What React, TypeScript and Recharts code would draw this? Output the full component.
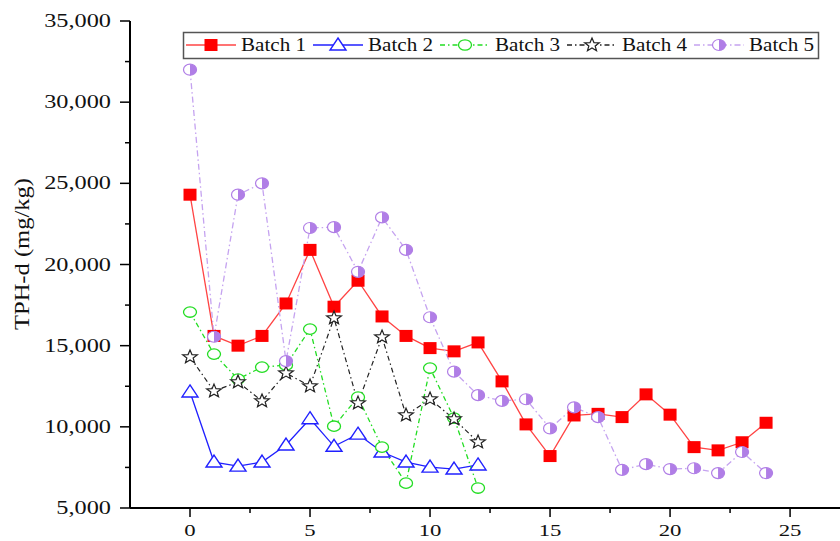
import { LineChart, Line, XAxis, YAxis } from "recharts";

const days = [0, 1, 2, 3, 4, 5, 6, 7, 8, 9, 10, 11, 12, 13, 14, 15, 16, 17, 18, 19, 20, 21, 22, 23, 24];

const batch1 = [
  24300, 15600, 15000, 15600, 17600, 20900, 17400, 19000, 16800, 15600, 14850, 14650, 15200,
  12800, 10150, 8200, 10700, 10800, 10600, 12000, 10750, 8750, 8550, 9050, 10250,
];
const batch2 = [12150, 7830, 7580, 7830, 8880, 10500, 8800, 9550, 8450, 7830, 7520, 7400, 7650];
const batch3 = [17070, 14480, 12940, 13680, 13800, 16020, 10040, 11830, 8750, 6530, 13620, 10540, 6230];
const batch4 = [14300, 12200, 12760, 11590, 13310, 12510, 16700, 11460, 15530, 10720, 11710, 10480, 9060];
const batch5 = [
  32000, 15550, 24300, 25000, 14050, 22250, 22300, 19550, 22900, 20900, 16750, 13400, 11950,
  11600, 11700, 9900, 11200, 10600, 7350, 7700, 7400, 7450, 7150, 8450, 7150,
];

const seriesNames = ["Batch 1", "Batch 2", "Batch 3", "Batch 4", "Batch 5"];
const xTicks = [0, 2.5, 5, 7.5, 10, 12.5, 15, 17.5, 20, 22.5, 25];
const yTicks = [5000, 7500, 10000, 12500, 15000, 17500, 20000, 22500, 25000, 27500, 30000, 32500, 35000];

const toPoints = (vals: number[]) => vals.map((v, i) => ({ x: days[i], y: v }));

const FONT = "'Liberation Serif', 'Times New Roman', serif";

const RED = "#ff0000";
const BLUE = "#2020ff";
const GREEN = "#22dd22";
const BLACK = "#222222";
const PURPLE = "#b07ee6";

function square(cx: number, cy: number, key?: any) {
  return <rect key={key} x={cx - 6.5} y={cy - 6} width={13} height={12} fill={RED} />;
}
function triangle(cx: number, cy: number, key?: any) {
  const pts = `${cx},${cy - 7} ${cx + 8},${cy + 5} ${cx - 8},${cy + 5}`;
  return <polygon key={key} points={pts} fill="#fff" stroke={BLUE} strokeWidth={1.4} />;
}
function circle(cx: number, cy: number, key?: any) {
  return <ellipse key={key} cx={cx} cy={cy} rx={6.5} ry={5.2} fill="#fff" stroke={GREEN} strokeWidth={1.3} />;
}
function star(cx: number, cy: number, key?: any) {
  const pts: string[] = [];
  for (let i = 0; i < 10; i++) {
    const r = i % 2 === 0 ? 7 : 3;
    const a = -Math.PI / 2 + (i * Math.PI) / 5;
    pts.push(`${cx + r * 1.1 * Math.cos(a)},${cy + r * Math.sin(a)}`);
  }
  return <polygon key={key} points={pts.join(" ")} fill="#fff" stroke={BLACK} strokeWidth={1.2} />;
}
function halfCircle(cx: number, cy: number, key?: any) {
  return (
    <g key={key}>
      <ellipse cx={cx} cy={cy} rx={6.5} ry={5.5} fill="#fff" stroke={PURPLE} strokeWidth={1.2} />
      <path d={`M${cx},${cy - 5.5} A6.5,5.5 0 0 1 ${cx},${cy + 5.5} Z`} fill={PURPLE} />
    </g>
  );
}

const fmt = (v: number) => String(v).replace(/\B(?=(\d{3})+(?!\d))/g, ",");

function YTick(props: any) {
  const { x, y, payload } = props;
  const major = payload.value % 5000 === 0;
  return (
    <g>
      <line x1={x} x2={x - (major ? 10 : 5)} y1={y} y2={y} stroke="#000" strokeWidth={1.5} />
      {major && (
        <text
          transform={`translate(${x - 19},${y + 6}) scale(1.35,1)`}
          textAnchor="end"
          fontFamily={FONT}
          fontSize={18}
          fill="#111"
        >
          {fmt(payload.value)}
        </text>
      )}
    </g>
  );
}

function XTick(props: any) {
  const { x, y, payload } = props;
  const major = payload.value % 5 === 0;
  return (
    <g>
      <line x1={x} x2={x} y1={y} y2={y + (major ? 9 : 5)} stroke="#000" strokeWidth={1.5} />
      {major && (
        <text
          transform={`translate(${x},${y + 28}) scale(1.3,1)`}
          textAnchor="middle"
          fontFamily={FONT}
          fontSize={17.5}
          fill="#111"
        >
          {payload.value}
        </text>
      )}
    </g>
  );
}

const legendItems = [
  { x: 186, color: "#ff4444", dash: undefined, marker: square },
  { x: 313, color: BLUE, dash: undefined, marker: triangle },
  { x: 440, color: GREEN, dash: "5 3 1.5 3", marker: circle },
  { x: 567, color: BLACK, dash: "5 3 1.5 3", marker: star },
  { x: 694, color: "#c5a3f0", dash: "6 3 1.5 3", marker: halfCircle },
];

function LegendBox() {
  return (
    <svg width={840} height={70} style={{ position: "absolute", left: 0, top: 0 }}>
      <rect x={183.5} y={32.5} width={635} height={26} fill="#fff" stroke="#555" strokeWidth={1.5} />
      {legendItems.map((it, i) => (
        <g key={i}>
          <line x1={it.x} x2={it.x + 50} y1={45} y2={45} stroke={it.color} strokeWidth={1.3} strokeDasharray={it.dash} />
          {it.marker(it.x + 25, 45)}
          <text
            x={it.x + 55}
            y={51}
            fontFamily={FONT}
            fontSize={18.5}
            fill="#111"
            textLength={65}
            lengthAdjust="spacingAndGlyphs"
          >
            {seriesNames[i]}
          </text>
        </g>
      ))}
    </svg>
  );
}

export default function App() {
  return (
    <div style={{ position: "absolute", left: 0, top: 0, width: 840, height: 541, background: "#fff" }}>
      <LineChart width={840} height={541} margin={{ top: 21, right: 0, bottom: 0, left: 0 }}>
        <XAxis
          type="number"
          dataKey="x"
          domain={[-2.5, 27.08]}
          ticks={xTicks}
          interval={0}
          height={33}
          tickSize={0}
          tickMargin={0}
          tickLine={false}
          tick={<XTick />}
          axisLine={{ stroke: "#000", strokeWidth: 2 }}
          allowDataOverflow
        />
        <YAxis
          type="number"
          dataKey="y"
          domain={[5000, 35000]}
          ticks={yTicks}
          interval={0}
          width={130}
          tickSize={0}
          tickMargin={0}
          tickLine={false}
          tick={<YTick />}
          axisLine={{ stroke: "#000", strokeWidth: 2 }}
          allowDataOverflow
        />
        <Line
          data={toPoints(batch1)}
          dataKey="y"
          name={seriesNames[0]}
          stroke="#ff4444"
          strokeWidth={1.3}
          isAnimationActive={false}
          dot={(p: any) => square(p.cx, p.cy, `b1-${p.index}`)}
        />
        <Line
          data={toPoints(batch2)}
          dataKey="y"
          name={seriesNames[1]}
          stroke={BLUE}
          strokeWidth={1.3}
          isAnimationActive={false}
          dot={(p: any) => triangle(p.cx, p.cy, `b2-${p.index}`)}
        />
        <Line
          data={toPoints(batch3)}
          dataKey="y"
          name={seriesNames[2]}
          stroke={GREEN}
          strokeWidth={1.3}
          strokeDasharray="5 3 1.5 3"
          isAnimationActive={false}
          dot={(p: any) => circle(p.cx, p.cy, `b3-${p.index}`)}
        />
        <Line
          data={toPoints(batch4)}
          dataKey="y"
          name={seriesNames[3]}
          stroke={BLACK}
          strokeWidth={1.2}
          strokeDasharray="5 3 1.5 3"
          isAnimationActive={false}
          dot={(p: any) => star(p.cx, p.cy, `b4-${p.index}`)}
        />
        <Line
          data={toPoints(batch5)}
          dataKey="y"
          name={seriesNames[4]}
          stroke="#c5a3f0"
          strokeWidth={1.3}
          strokeDasharray="6 3 1.5 3"
          isAnimationActive={false}
          dot={(p: any) => halfCircle(p.cx, p.cy, `b5-${p.index}`)}
        />
      </LineChart>
      <svg width={60} height={541} style={{ position: "absolute", left: 0, top: 0 }}>
        <text
          transform="translate(29,254) rotate(-90)"
          textAnchor="middle"
          fontFamily={FONT}
          fontSize={20}
          fill="#111"
          textLength={152}
          lengthAdjust="spacingAndGlyphs"
        >
          TPH-d (mg/kg)
        </text>
      </svg>
      <LegendBox />
    </div>
  );
}
